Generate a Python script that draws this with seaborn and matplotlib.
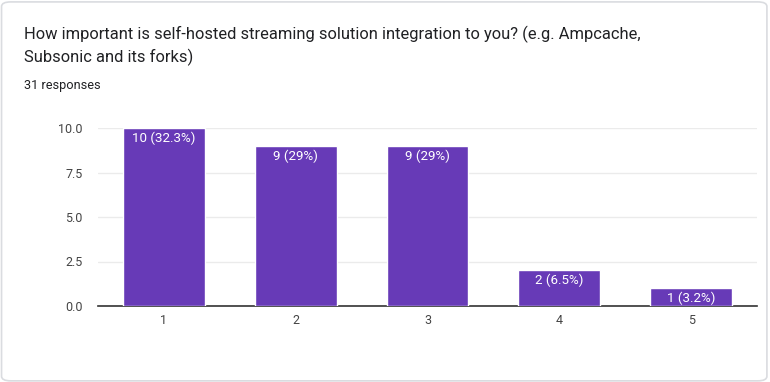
import pandas as pd
import seaborn as sns
import matplotlib.pyplot as plt
from matplotlib.patches import FancyBboxPatch

# datos
categorias = ["1", "2", "3", "4", "5"]
respuestas = [10, 9, 9, 2, 1]
etiquetas = ["10 (32.3%)", "9 (29%)", "9 (29%)", "2 (6.5%)", "1 (3.2%)"]
yticks = [0.0, 2.5, 5.0, 7.5, 10.0]

titulo_l1 = "How important is self-hosted streaming solution integration to you? (e.g. Ampcache,"
titulo_l2 = "Subsonic and its forks)"
subtitulo = "31 responses"

df = pd.DataFrame({"categoria": categorias, "respuestas": respuestas})

sns.set_style("white")
plt.rcParams['font.family'] = ['Roboto', 'DejaVu Sans']

fig = plt.figure(figsize=(7.7, 3.82), dpi=100)

# tarjeta con borde redondeado
card = FancyBboxPatch((0.002, 0.003), 0.994, 0.992, boxstyle="round,pad=0,rounding_size=0.012",
                      transform=fig.transFigure, facecolor="white", edgecolor="#dadce0",
                      linewidth=1.2, zorder=-1)
fig.patches.append(card)

fig.text(24/770, 1 - 34/382, titulo_l1, fontsize=11.9, color="#202124", va="center")
fig.text(24/770, 1 - 57/382, titulo_l2, fontsize=11.9, color="#202124", va="center")
fig.text(24/770, 1 - 86/382, subtitulo, fontsize=9.2, color="#202124", va="center")

ax = fig.add_axes([98/770, 1 - 306/382, 659/770, 178/382])
sns.barplot(data=df, x="categoria", y="respuestas", color="#673ab7", width=0.62,
            saturation=1, ax=ax, zorder=3)

for i, (v, txt) in enumerate(zip(respuestas, etiquetas)):
    ax.text(i, v - 0.2, txt, ha="center", va="top", color="white", fontsize=9.6, zorder=4)

ax.set_xlim(-0.5, 4.5)
ax.set_ylim(0, 10)
ax.set_yticks(yticks)
ax.set_yticklabels([f"{t:.1f}" for t in yticks])
ax.yaxis.grid(True, color="#ebebeb", linewidth=1, zorder=0)
ax.set_xlabel("")
ax.set_ylabel("")
for s in ["top", "right", "left"]:
    ax.spines[s].set_visible(False)
ax.spines["bottom"].set_color("#333333")
ax.spines["bottom"].set_linewidth(1.2)
ax.tick_params(axis="both", length=0, labelsize=9, labelcolor="#444444")
ax.tick_params(axis="x", pad=6)
ax.tick_params(axis="y", pad=11)

fig.savefig("out.png", dpi=100)
